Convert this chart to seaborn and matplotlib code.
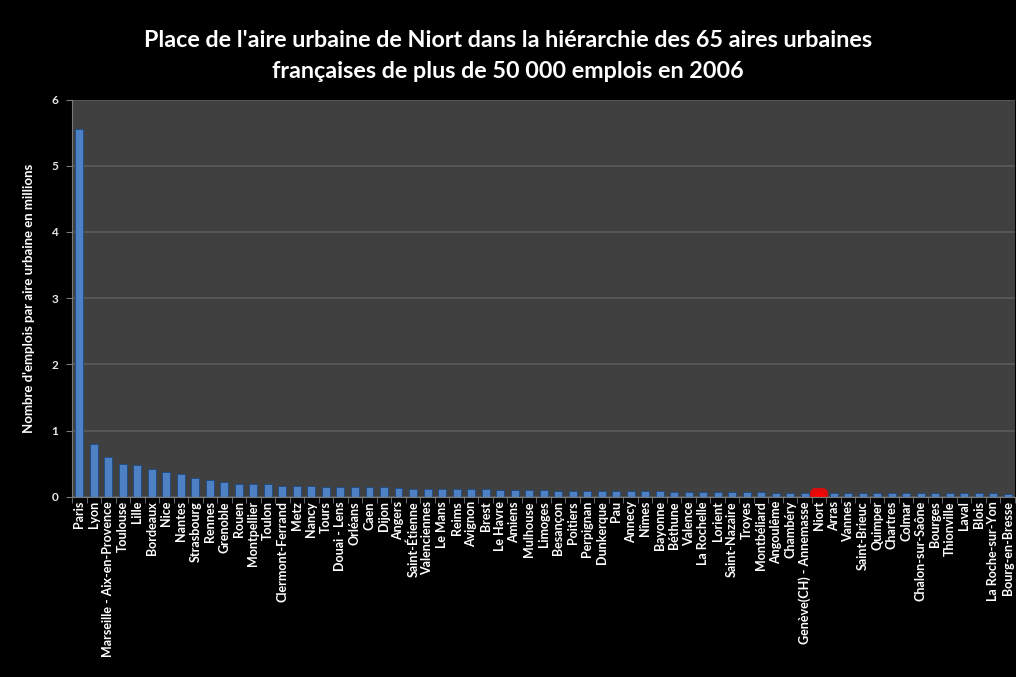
import numpy as np
import pandas as pd
import matplotlib.pyplot as plt
import seaborn as sns

villes = ["Paris", "Lyon", "Marseille - Aix-en-Provence", "Toulouse", "Lille", "Bordeaux",
          "Nice", "Nantes", "Strasbourg", "Rennes", "Grenoble", "Rouen", "Montpellier",
          "Toulon", "Clermont-Ferrand", "Metz", "Nancy", "Tours", "Douai - Lens", "Orléans",
          "Caen", "Dijon", "Angers", "Saint-Étienne", "Valenciennes", "Le Mans", "Reims",
          "Avignon", "Brest", "Le Havre", "Amiens", "Mulhouse", "Limoges", "Besançon",
          "Poitiers", "Perpignan", "Dunkerque", "Pau", "Annecy", "Nîmes", "Bayonne",
          "Béthune", "Valence", "La Rochelle", "Lorient", "Saint-Nazaire", "Troyes",
          "Montbéliard", "Angoulême", "Chambéry", "Genève(CH) - Annemasse", "Niort", "Arras",
          "Vannes", "Saint-Brieuc", "Quimper", "Chartres", "Colmar", "Chalon-sur-Saône",
          "Bourges", "Thionville", "Laval", "Blois", "La Roche-sur-Yon", "Bourg-en-Bresse"]

emplois = [5.55, 0.80, 0.60, 0.49, 0.48, 0.42,
           0.37, 0.34, 0.28, 0.26, 0.23, 0.20, 0.195,
           0.195, 0.17, 0.17, 0.165, 0.15, 0.15, 0.15,
           0.15, 0.145, 0.135, 0.125, 0.12, 0.12, 0.12,
           0.12, 0.12, 0.11, 0.11, 0.11, 0.10, 0.09,
           0.09, 0.09, 0.09, 0.09, 0.09, 0.09, 0.09,
           0.075, 0.075, 0.07, 0.07, 0.07, 0.07,
           0.07, 0.065, 0.065, 0.065, 0.065, 0.055,
           0.055, 0.055, 0.055, 0.055, 0.055, 0.055,
           0.055, 0.055, 0.055, 0.055, 0.055, 0.05]

ville_cible = "Niort"

df = pd.DataFrame({"ville": villes, "emplois": emplois})
couleurs = {v: ("#ff0000" if v == ville_cible else "#3a7fd6") for v in villes}

sns.set_style("dark")
plt.rcParams["font.family"] = ["Lato", "DejaVu Sans"]

fig = plt.figure(figsize=(10.16, 6.77), dpi=100, facecolor="black")
ax = fig.add_axes([0.071, 0.266, 0.928, 0.587])
ax.set_facecolor("#404040")

sns.barplot(data=df, x="ville", y="emplois", hue="ville", palette=couleurs,
            legend=False, width=0.55, edgecolor="#1d4a86", linewidth=0.6, ax=ax)

# halo rouge autour de la barre de Niort
i_cible = villes.index(ville_cible)
for p in ax.patches:
    if abs(p.get_x() + p.get_width() / 2 - i_cible) < 0.01:
        p.set_edgecolor((1, 0, 0, 0.85))
        p.set_linewidth(7)
        p.set_joinstyle("round")

ax.set_ylim(0, 6)
ax.set_xlim(-0.5, len(villes) - 0.5)
ax.set_yticks(range(0, 7))
ax.yaxis.grid(True, color="#5e5e5e", linewidth=1.1)
ax.xaxis.grid(False)
ax.set_axisbelow(True)

for s in ["top", "right"]:
    ax.spines[s].set_visible(False)
ax.spines["left"].set_color("#7a7a7a")
ax.spines["bottom"].set_color("#7a7a7a")

ax.set_xticks(np.arange(len(villes)))
ax.set_xticklabels(villes)
ax.set_xticks(np.arange(len(villes) + 1) - 0.5, minor=True)
ax.tick_params(axis="x", length=0, pad=3, labelrotation=90, labelsize=9, labelcolor="white")
ax.tick_params(axis="x", which="minor", length=4, color="#7a7a7a", bottom=True)
ax.tick_params(axis="y", length=4, color="#7a7a7a", left=True, labelsize=8.5,
               labelcolor="#e8e8e8", pad=6)
for lab in ax.get_xticklabels() + ax.get_yticklabels():
    lab.set_fontweight("bold")

ax.set_xlabel("")
ax.set_ylabel("Nombre d'emplois par aire urbaine en millions", color="white",
              fontsize=9.5, fontweight="bold", labelpad=12)

fig.suptitle("Place de l'aire urbaine de Niort dans la hiérarchie des 65 aires urbaines\n"
             "françaises de plus de 50 000 emplois en 2006",
             color="white", fontsize=16.8, fontweight="bold", y=0.955, linespacing=1.55)

fig.savefig("out.png", dpi=100, facecolor="black")
